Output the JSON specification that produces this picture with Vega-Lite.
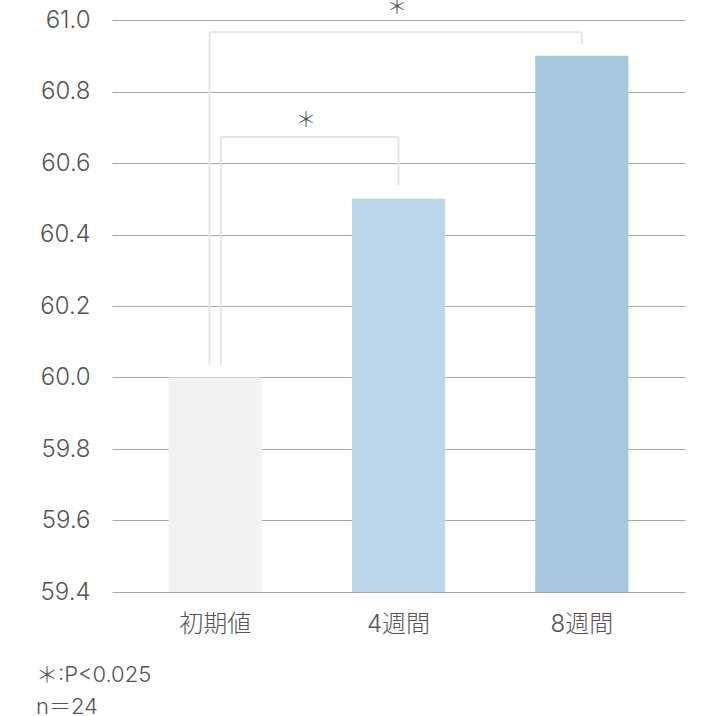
{
  "$schema": "https://vega.github.io/schema/vega-lite/v6.json",
  "autosize": {"type": "none"},
  "width": 573,
  "height": 572,
  "padding": {"left": 112, "top": 20, "right": 35, "bottom": 124},
  "background": "white",
  "config": {
    "view": {"stroke": null},
    "font": "Inter, Noto Sans CJK JP",
    "text": {"font": "Noto Sans CJK JP"}
  },
  "title": {
    "text": ["＊:P<0.025", "n＝24"],
    "orient": "bottom",
    "anchor": "start",
    "frame": "group",
    "dx": -76,
    "offset": 29,
    "baseline": "top",
    "fontSize": 22,
    "fontWeight": 300,
    "font": "Inter, Noto Sans CJK JP",
    "color": "#555555",
    "lineHeight": 32
  },
  "layer": [
    {
      "data": {"values": [
        {"period": "初期値", "value": 60.0},
        {"period": "4週間", "value": 60.5},
        {"period": "8週間", "value": 60.9}
      ]},
      "mark": {"type": "bar", "clip": true},
      "encoding": {
        "x": {
          "field": "period", "type": "nominal",
          "scale": {"domain": ["初期値", "4週間", "8週間"], "paddingInner": 0.492, "paddingOuter": 0.309},
          "axis": {
            "title": null, "domain": false, "ticks": false, "labelAngle": 0,
            "labelFontSize": 24, "labelColor": "#555555", "labelPadding": 20,
            "labelFont": "Inter, Noto Sans CJK JP", "labelFontWeight": 300, "labelBaseline": "top"
          }
        },
        "y": {
          "field": "value", "type": "quantitative",
          "scale": {"domain": [59.4, 61.0], "nice": false, "zero": false},
          "axis": {
            "title": null, "domain": false, "ticks": false, "values": [59.4, 59.6, 59.8, 60.0, 60.2, 60.4, 60.6, 60.8, 61.0],
            "format": ".1f", "labelFontSize": 24, "labelColor": "#555555", "labelPadding": 22,
            "gridColor": "#a8a8a8", "gridWidth": 1.2, "labelFont": "Inter", "labelFontWeight": 300
          }
        },
        "color": {
          "field": "period", "type": "nominal",
          "scale": {"domain": ["初期値", "4週間", "8週間"], "range": ["#f2f2f2", "#bdd5e8", "#a6c7dd"]},
          "legend": null
        }
      }
    },
    {
      "data": {"values": [{"period": "初期値", "y1": 60.035, "y2": 60.673}]},
      "mark": {"type": "rule", "color": "#e6e6e6", "strokeWidth": 2},
      "encoding": {
        "x": {"field": "period", "type": "nominal", "bandPosition": 0.561},
        "y": {"field": "y1", "type": "quantitative"},
        "y2": {"field": "y2"}
      }
    },
    {
      "data": {"values": [{"period": "初期値", "y1": 60.035, "y2": 60.966}]},
      "mark": {"type": "rule", "color": "#e6e6e6", "strokeWidth": 2},
      "encoding": {
        "x": {"field": "period", "type": "nominal", "bandPosition": 0.439},
        "y": {"field": "y1", "type": "quantitative"},
        "y2": {"field": "y2"}
      }
    },
    {
      "data": {"values": [
        {"period": "4週間", "y1": 60.538, "y2": 60.673},
        {"period": "8週間", "y1": 60.933, "y2": 60.966}
      ]},
      "mark": {"type": "rule", "color": "#e6e6e6", "strokeWidth": 2},
      "encoding": {
        "x": {"field": "period", "type": "nominal", "bandPosition": 0.5},
        "y": {"field": "y1", "type": "quantitative"},
        "y2": {"field": "y2"}
      }
    },
    {
      "data": {"values": [{"from": "初期値", "to": "4週間", "y": 60.673}]},
      "mark": {"type": "rule", "color": "#e6e6e6", "strokeWidth": 2},
      "encoding": {
        "x": {"field": "from", "type": "nominal", "bandPosition": 0.561},
        "x2": {"field": "to", "bandPosition": 0.5},
        "y": {"field": "y", "type": "quantitative"}
      }
    },
    {
      "data": {"values": [{"from": "初期値", "to": "8週間", "y": 60.966}]},
      "mark": {"type": "rule", "color": "#e6e6e6", "strokeWidth": 2},
      "encoding": {
        "x": {"field": "from", "type": "nominal", "bandPosition": 0.439},
        "x2": {"field": "to", "bandPosition": 0.5},
        "y": {"field": "y", "type": "quantitative"}
      }
    },
    {
      "data": {"values": [{"period": "初期値", "y": 60.7175, "label": "＊"}]},
      "mark": {"type": "text", "fontSize": 21, "fontWeight": 300, "color": "#555555", "baseline": "middle", "align": "center"},
      "encoding": {
        "x": {"field": "period", "type": "nominal", "bandPosition": 1.475},
        "y": {"field": "y", "type": "quantitative"},
        "text": {"field": "label"}
      }
    },
    {
      "data": {"values": [{"period": "4週間", "y": 61.034, "label": "＊"}]},
      "mark": {"type": "text", "fontSize": 21, "fontWeight": 300, "color": "#555555", "baseline": "middle", "align": "center"},
      "encoding": {
        "x": {"field": "period", "type": "nominal", "bandPosition": 0.484},
        "y": {"field": "y", "type": "quantitative"},
        "text": {"field": "label"}
      }
    }
  ]
}
